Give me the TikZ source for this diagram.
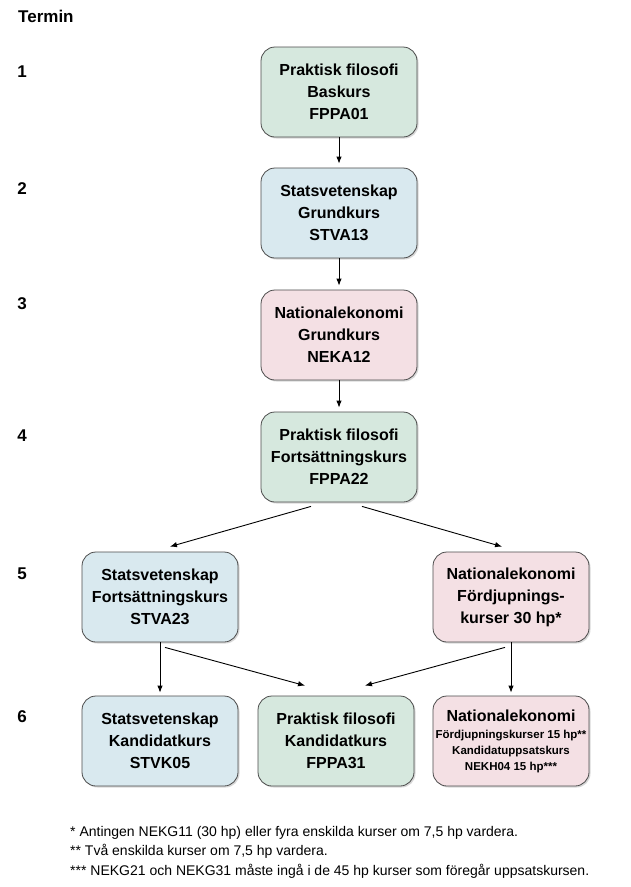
\documentclass[tikz,border=0pt]{standalone}
\usepackage{fontspec}
\setmainfont{Liberation Sans}
\usetikzlibrary{arrows.meta,shadows}
\definecolor{pfgreen}{HTML}{D6E8DE}
\definecolor{svblue}{HTML}{D9E9EF}
\definecolor{nepink}{HTML}{F4E0E4}
\begin{document}
\begin{tikzpicture}[x=1pt,y=-1pt,
  course/.style={rectangle,rounded corners=14pt,draw=black!70,line width=0.8pt,
    minimum width=156pt,minimum height=90pt,align=center,inner sep=2pt,
    font=\fontsize{16}{22}\selectfont\bfseries,
    drop shadow={shadow xshift=1.5pt,shadow yshift=-1.5pt,opacity=0.3}},
  pf node/.style={course,fill=pfgreen},
  sv node/.style={course,fill=svblue},
  ne node/.style={course,fill=nepink},
  term/.style={inner sep=0pt,font=\fontsize{17}{20}\selectfont\bfseries},
  arr/.style={-{Latex[length=7pt,width=5.5pt]},line width=0.9pt}]

  \useasboundingbox[fill=white] (0,0) rectangle (630,887);

  % terms
  \node[term,anchor=west] (termin) at (18,16) {Termin};
  \node[term] (t1) at (22,72) {1};
  \node[term] (t2) at (22,189) {2};
  \node[term] (t3) at (22,304) {3};
  \node[term] (t4) at (22,436) {4};
  \node[term] (t5) at (22,574) {5};
  \node[term] (t6) at (22,717) {6};

  % courses
  \node[pf node] (fppa01) at (339,92) {Praktisk filosofi\\Baskurs\\FPPA01};
  \node[sv node] (stva13) at (339,213) {Statsvetenskap\\Grundkurs\\STVA13};
  \node[ne node] (neka12) at (339,335) {Nationalekonomi\\Grundkurs\\NEKA12};
  \node[pf node] (fppa22) at (339,457) {Praktisk filosofi\\Fortsättningskurs\\FPPA22};
  \node[sv node] (stva23) at (160,597) {Statsvetenskap\\Fortsättningskurs\\STVA23};
  \node[ne node] (nefdj) at (511,597) {Nationalekonomi\\Fördjupnings-\\kurser 30 hp*};
  \node[sv node] (stvk05) at (160,741) {Statsvetenskap\\Kandidatkurs\\STVK05};
  \node[pf node] (fppa31) at (336,741) {Praktisk filosofi\\Kandidatkurs\\FPPA31};
  \node[ne node,font=\fontsize{11.5}{16}\selectfont\bfseries] (nekh04) at (511,741)
    {{\fontsize{16}{18}\selectfont Nationalekonomi}\\[1pt]
     Fördjupningskurser 15 hp**\\Kandidatuppsatskurs\\NEKH04 15 hp***};

  % arrows
  \draw[arr,shorten >=4pt] (fppa01) -- (stva13);
  \draw[arr,shorten >=4pt] (stva13) -- (neka12);
  \draw[arr,shorten >=4pt] (neka12) -- (fppa22);
  \draw[arr] ([xshift=-28pt,yshift=-4pt]fppa22.south) -- ([xshift=10pt,yshift=5pt]stva23.north);
  \draw[arr] ([xshift=23pt,yshift=-4pt]fppa22.south) -- ([xshift=-9pt,yshift=5pt]nefdj.north);
  \draw[arr,shorten >=3pt] (stva23) -- (stvk05);
  \draw[arr,shorten >=3pt] (nefdj) -- (nekh04);
  \draw[arr] ([xshift=5pt,yshift=-5pt]stva23.south) -- ([xshift=-31pt,yshift=10pt]fppa31.north);
  \draw[arr] ([xshift=-6pt,yshift=-5pt]nefdj.south) -- ([xshift=29pt,yshift=10pt]fppa31.north);

  % notes
  \node[anchor=west,align=left,inner sep=0pt,font=\fontsize{14}{19.5}\selectfont] (notes) at (70,852)
    {* Antingen NEKG11 (30 hp) eller fyra enskilda kurser om 7,5 hp vardera.\\
     ** Två enskilda kurser om 7,5 hp vardera.\\
     *** NEKG21 och NEKG31 måste ingå i de 45 hp kurser som föregår uppsatskursen.};
\end{tikzpicture}
\end{document}
